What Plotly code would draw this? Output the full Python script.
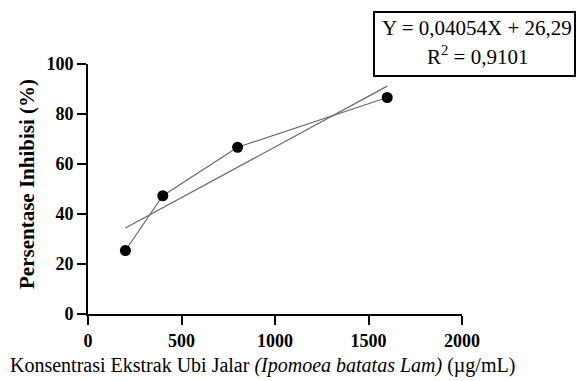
import plotly.graph_objects as go

konsentrasi = [200, 400, 800, 1600]
inhibisi = [25.4, 47.3, 66.7, 86.6]
slope = 0.04054
intercept = 26.29
x_ticks = [0, 500, 1000, 1500, 2000]
y_ticks = [0, 20, 40, 60, 80, 100]

fit_x = [konsentrasi[0], konsentrasi[-1]]
fit_y = [slope * v + intercept for v in fit_x]

FONT = "Liberation Serif"
L, R, T, B = 88, 462, 64, 314
W, H = R - L, B - T


def px(xp):
    return (xp - L) / W


def py(yp):
    return (B - yp) / H


fig = go.Figure()
fig.add_trace(go.Scatter(x=fit_x, y=fit_y, mode="lines",
                         line=dict(color="#6a6a6a", width=1.2), showlegend=False))
fig.add_trace(go.Scatter(x=konsentrasi, y=inhibisi, mode="lines+markers",
                         line=dict(color="#6a6a6a", width=1.2),
                         marker=dict(color="black", size=11), showlegend=False))

fig.update_layout(
    width=577, height=381,
    margin=dict(l=L, r=577 - R, t=T, b=381 - B),
    plot_bgcolor="white", paper_bgcolor="white",
    font=dict(family=FONT, color="black"),
    xaxis=dict(range=[0, 2000], tickvals=x_ticks, showgrid=False, zeroline=False,
               automargin=False,
               showline=True, linecolor="black", linewidth=2,
               ticks="outside", ticklen=9, tickwidth=2, tickcolor="black",
               tickfont=dict(family=FONT, size=18, color="black", weight="bold")),
    yaxis=dict(range=[0, 100], tickvals=y_ticks, showgrid=False, zeroline=False,
               automargin=False,
               showline=True, linecolor="black", linewidth=2,
               ticks="outside", ticklen=9, tickwidth=2, tickcolor="black",
               tickfont=dict(family=FONT, size=18, color="black", weight="bold")),
)

fig.add_annotation(xref="paper", yref="paper", x=px(27), y=py(184),
                   text="<b>Persentase Inhibisi (%)</b>", textangle=-90,
                   showarrow=False, font=dict(family=FONT, size=21, color="black"),
                   xanchor="center", yanchor="middle")

fig.add_annotation(xref="paper", yref="paper", x=px(262), y=py(365),
                   text="Konsentrasi Ekstrak Ubi Jalar <i>(Ipomoea batatas Lam)</i> (µg/mL)",
                   showarrow=False, font=dict(family=FONT, size=20, color="black"),
                   xanchor="center", yanchor="middle")

fig.add_shape(type="rect", xref="paper", yref="paper",
              x0=px(374), x1=px(575), y0=py(76), y1=py(12),
              line=dict(color="black", width=2), fillcolor="white")
fig.add_annotation(xref="paper", yref="paper", x=px(477), y=py(28),
                   text=f"Y = {slope:.5f}".replace(".", ",") + "X + " + f"{intercept:.2f}".replace(".", ","),
                   showarrow=False, font=dict(family=FONT, size=21, color="black"),
                   xanchor="center", yanchor="middle")
fig.add_annotation(xref="paper", yref="paper", x=px(477), y=py(56),
                   text="R<sup>2</sup> = 0,9101",
                   showarrow=False, font=dict(family=FONT, size=21, color="black"),
                   xanchor="center", yanchor="middle")

fig.write_html("out.html", config={"displayModeBar": False},
               post_script="document.body.style.margin='0';document.body.style.overflow='hidden';")
